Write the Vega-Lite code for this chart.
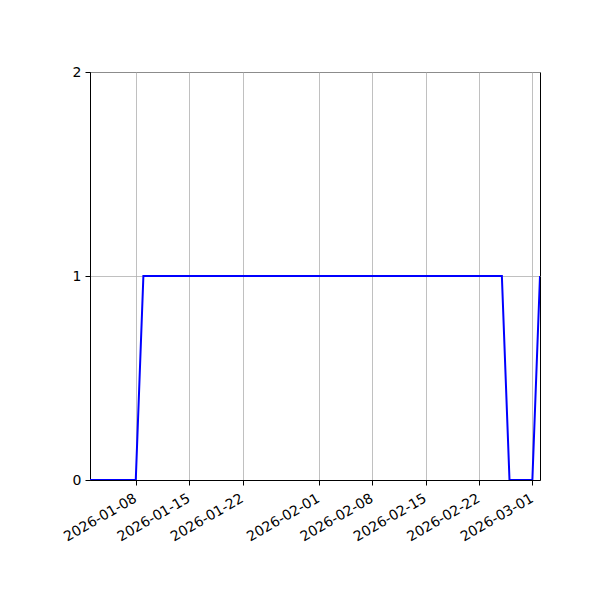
{
  "$schema": "https://vega.github.io/schema/vega-lite/v6.json",
  "width": 450,
  "height": 408,
  "autosize": "none",
  "padding": {"left": 90, "top": 72, "right": 60, "bottom": 120},
  "background": "white",
  "data": {
    "values": [
      {"date": "2026-01-02", "value": 0},
      {"date": "2026-01-08", "value": 0},
      {"date": "2026-01-09", "value": 1},
      {"date": "2026-02-25", "value": 1},
      {"date": "2026-02-26", "value": 0},
      {"date": "2026-03-01", "value": 0},
      {"date": "2026-03-02", "value": 1}
    ]
  },
  "mark": {"type": "line", "color": "#0000ff", "strokeWidth": 2, "clip": true},
  "encoding": {
    "x": {
      "field": "date",
      "type": "temporal",
      "title": null,
      "scale": {
        "type": "utc",
        "domain": [
          {"year": 2026, "month": 1, "date": 2, "utc": true},
          {"year": 2026, "month": 3, "date": 2, "utc": true}
        ]
      },
      "axis": {
        "values": [
          {"year": 2026, "month": 1, "date": 8, "utc": true},
          {"year": 2026, "month": 1, "date": 15, "utc": true},
          {"year": 2026, "month": 1, "date": 22, "utc": true},
          {"year": 2026, "month": 2, "date": 1, "utc": true},
          {"year": 2026, "month": 2, "date": 8, "utc": true},
          {"year": 2026, "month": 2, "date": 15, "utc": true},
          {"year": 2026, "month": 2, "date": 22, "utc": true},
          {"year": 2026, "month": 3, "date": 1, "utc": true}
        ],
        "format": "%Y-%m-%d",
        "labelAngle": -30,
        "labelAlign": "right",
        "labelBaseline": "top",
        "labelPadding": 6,
        "labelOffset": -4,
        "grid": true
      }
    },
    "y": {
      "field": "value",
      "type": "quantitative",
      "title": null,
      "scale": {"domain": [0, 2], "nice": false, "zero": false},
      "axis": {"tickCount": 2, "grid": true, "labelPadding": 4}
    }
  },
  "config": {
    "view": {"stroke": "black", "strokeWidth": 1},
    "axis": {
      "labelFont": "DejaVu Sans",
      "labelFontSize": 14,
      "labelColor": "black",
      "domainColor": "black",
      "domainWidth": 1,
      "tickColor": "black",
      "tickSize": 5,
      "tickWidth": 1,
      "gridColor": "#b0b0b0",
      "gridWidth": 0.8,
      "gridOpacity": 1,
      "labelOverlap": false,
      "labelFlush": false
    }
  }
}
